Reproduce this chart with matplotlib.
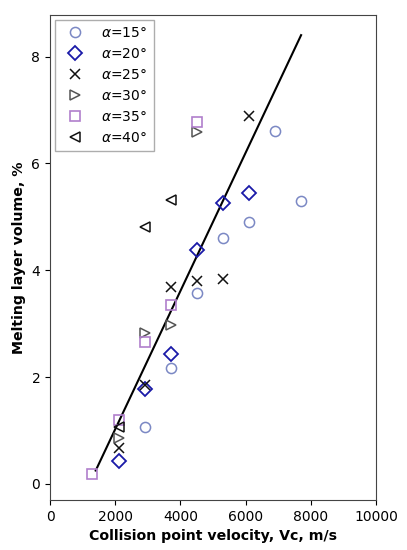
import matplotlib
matplotlib.use("Agg")
import matplotlib.pyplot as plt

# data
x15 = [2900, 3700, 4500, 5300, 6100, 6900, 7700]
y15 = [1.07, 2.17, 3.58, 4.61, 4.91, 6.60, 5.30]
x20 = [2100, 2900, 3700, 4500, 5300, 6100]
y20 = [0.43, 1.77, 2.43, 4.38, 5.26, 5.44]
x25 = [2100, 2900, 3700, 4500, 5300, 6100]
y25 = [0.67, 1.85, 3.68, 3.79, 3.83, 6.89]
x30 = [2100, 2900, 3700, 4500]
y30 = [0.86, 2.83, 2.98, 6.59]
x35 = [1300, 2100, 2900, 3700, 4500]
y35 = [0.19, 1.20, 2.65, 3.34, 6.78]
x40 = [2100, 2900, 3700]
y40 = [1.07, 4.80, 5.32]
line_x = [1400, 7700]
line_y = [0.25, 8.40]

fig = plt.figure(figsize=(4.07, 5.5), dpi=100)
ax = fig.add_axes([0.123, 0.091, 0.801, 0.882])

ax.plot(line_x, line_y, color='black', lw=1.5, zorder=2)
ax.plot(x15, y15, 'o', mfc='none', mec='#7b88c4', ms=7.3, mew=1.1, label=r'$\alpha$=15°', zorder=3)
ax.plot(x20, y20, 'D', mfc='none', mec='#1a1aa8', ms=7, mew=1.3, label=r'$\alpha$=20°', zorder=3)
ax.plot(x25, y25, 'x', color='#111111', ms=7, mew=1.1, label=r'$\alpha$=25°', zorder=3)
ax.plot(x30, y30, '>', mfc='none', mec='#555555', ms=7.5, mew=1.1, label=r'$\alpha$=30°', zorder=3)
ax.plot(x35, y35, 's', mfc='none', mec='#b07fcc', ms=7.3, mew=1.2, label=r'$\alpha$=35°', zorder=3)
ax.plot(x40, y40, '<', mfc='none', mec='#111111', ms=7.5, mew=1.1, label=r'$\alpha$=40°', zorder=3)

ax.set_xlim(0, 10000)
ax.set_ylim(-0.3, 8.78)
ax.set_xticks([0, 2000, 4000, 6000, 8000, 10000])
ax.set_yticks([0, 2, 4, 6, 8])
ax.tick_params(labelsize=10)
ax.set_xlabel('Collision point velocity, Vc, m/s', fontsize=10.2, fontweight='bold')
ax.set_ylabel('Melting layer volume, %', fontsize=10.2, fontweight='bold')
for s in ax.spines.values():
    s.set_color('#444444')

ax.legend(loc='upper left', fontsize=10, fancybox=False, edgecolor='#999999',
          handletextpad=0.9, borderaxespad=0.35, labelspacing=0.5, borderpad=0.45)

fig.savefig('out.png', dpi=100)
